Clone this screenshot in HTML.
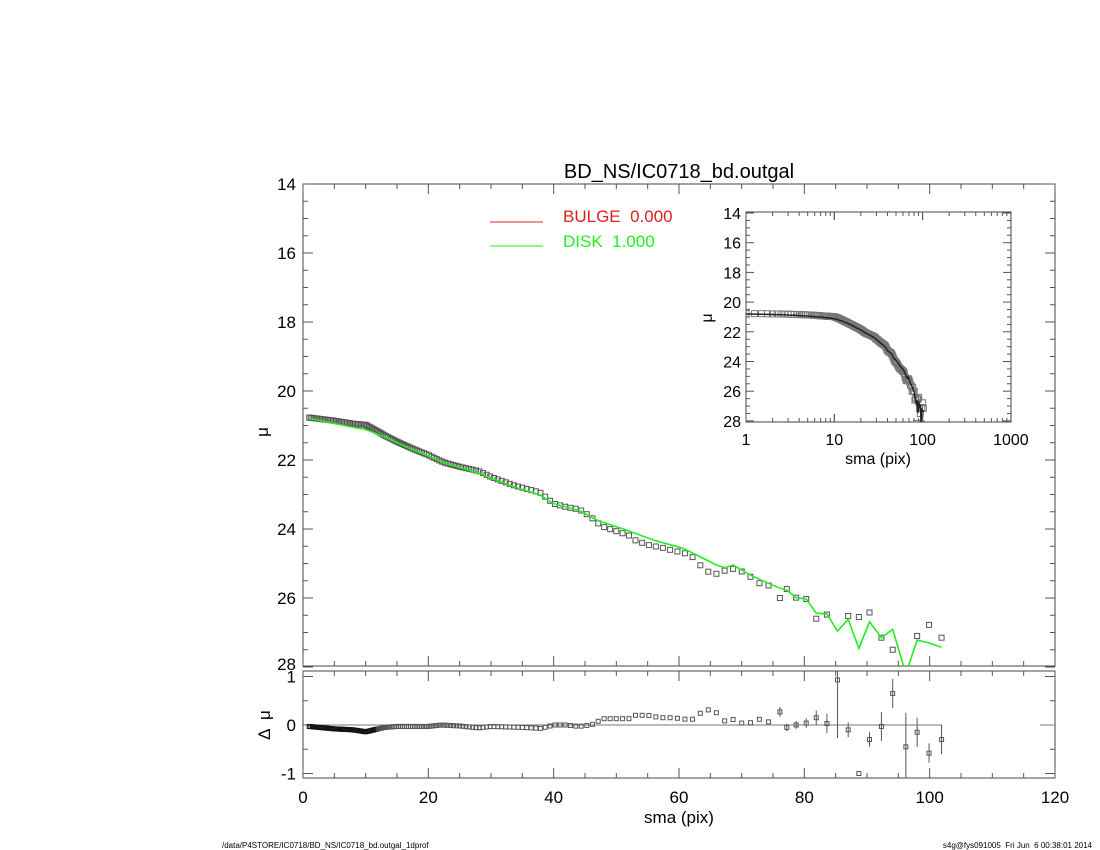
<!DOCTYPE html>
<html><head><meta charset="utf-8"><style>
html,body{margin:0;padding:0;background:#fff;}
svg{display:block;font-family:"Liberation Sans",sans-serif;}
text{white-space:pre;}
</style></head><body>
<svg id="s" width="1100" height="850" xmlns="http://www.w3.org/2000/svg"></svg>
<script>
const S=document.getElementById('s');let h='';
const X=x=>303+x*752/120, Y=m=>184+(m-14)*34.5, R=d=>725-48.5*d;
const IX=x=>746+Math.log10(x)*88.3, IY=m=>213+(m-14)*14.85;
function interp(k,x){if(x<=k[0][0])return k[0][1];for(let i=1;i<k.length;i++){if(x<=k[i][0]){const a=k[i-1],b=k[i];return a[1]+(b[1]-a[1])*(x-a[0])/(b[0]-a[0]);}}return k[k.length-1][1];}
const mk=[[1,20.8],[10,21.12],[12.3,21.28],[17.6,21.71],[22.9,22.1],[28.2,22.39],[33.5,22.77],[37.8,23.01],[39.9,23.26],[44.2,23.47],[46.8,23.74],[51.6,24.03],[55.9,24.32],[60.7,24.56],[67,25.14],[68.6,25.04],[71.3,25.33],[76.1,25.72]];
const rk=[[1,-0.03],[5,-0.08],[8,-0.1],[10,-0.14],[13,-0.05],[15,-0.03],[20,-0.03],[22,0],[25,-0.02],[28,-0.06],[30,-0.03],[35,-0.05],[38,-0.07],[40,0],[42,0],[44,-0.03],[46,0],[47,0.07],[48,0.13],[52,0.13],[53,0.2],[55,0.2],[57,0.15],[59,0.15],[61,0.12],[62,0.1],[63,0.22],[65,0.33],[66,0.25],[67,0.08],[69,0.12],[70,0.04],[72,0.05],[73,0.13],[74,0.03],[76,0.27]];
let pts=[];let x=1;
while(x<75.5){const m=interp(mk,x),r=interp(rk,x);pts.push({x,m,d:m+r,r,e:0.01});x+=Math.max(0.25,0.02*x);}
const tail=[[76.1,25.72,26.0,0.27,0.1],[77.2,25.77,25.74,-0.05,0.08],[78.7,25.99,25.99,0,0.08],[80.3,26.03,26.03,0.04,0.1],[81.9,26.44,26.6,0.15,0.15],[83.6,26.46,26.48,0.03,0.2],[85.3,26.96,28.17,0.93,1.2],[87,26.62,26.52,-0.1,0.15],[88.7,27.46,26.55,-1.0,0.05],[90.4,26.69,26.42,-0.3,0.15],[92.3,27.15,27.15,-0.03,0.3],[94.1,26.91,27.5,0.65,0.3],[96.2,28.2,28.2,-0.45,0.7],[98,27.22,27.1,-0.15,0.3],[99.9,27.3,26.78,-0.58,0.2],[101.9,27.43,27.15,-0.3,0.3]];
tail.forEach(t=>pts.push({x:t[0],m:t[1],d:t[2],r:t[3],e:t[4]}));
function frame(x0,y0,x1,y1){h+=`<rect x="${x0}" y="${y0}" width="${x1-x0}" height="${y1-y0}" fill="none" stroke="#444" stroke-width="1"/>`;}
const T='stroke="#555" stroke-width="1"';
h+=`<clipPath id="cm"><rect x="303" y="184" width="752" height="482"/></clipPath>`;
h+=`<clipPath id="ci"><rect x="746" y="212" width="265" height="210"/></clipPath>`;
frame(303,184,1055,666);frame(303,671,1055,778);
for(let v=0;v<=120;v+=5){const px=X(v),L=v%20==0?10:5;h+=`<line x1="${px}" y1="666" x2="${px}" y2="${666-L}" ${T}/><line x1="${px}" y1="184" x2="${px}" y2="${184+L}" ${T}/><line x1="${px}" y1="778" x2="${px}" y2="${778-L}" ${T}/><line x1="${px}" y1="671" x2="${px}" y2="${671+L}" ${T}/>`;if(v%20==0)h+=`<text x="${px}" y="803" font-size="17" text-anchor="middle">${v}</text>`;}
for(let v=14;v<=28;v+=0.5){const py=Y(v),L=v%2==0?10:5;h+=`<line x1="303" y1="${py}" x2="${303+L}" y2="${py}" ${T}/><line x1="1055" y1="${py}" x2="${1055-L}" y2="${py}" ${T}/>`;if(v%2==0)h+=`<text x="296" y="${v==28?py+3:py+6}" font-size="17" text-anchor="end">${v}</text>`;}
for(let v=-1;v<=1;v+=0.5){const py=R(v),L=Number.isInteger(v)?10:5;h+=`<line x1="303" y1="${py}" x2="${303+L}" y2="${py}" ${T}/><line x1="1055" y1="${py}" x2="${1055-L}" y2="${py}" ${T}/>`;if(Number.isInteger(v))h+=`<text x="296" y="${py+6}" font-size="17" text-anchor="end">${v}</text>`;}
h+=`<text x="679" y="178" font-size="20" text-anchor="middle">BD_NS/IC0718_bd.outgal</text>`;
h+=`<text x="679" y="823" font-size="17" text-anchor="middle">sma (pix)</text>`;
h+=`<text transform="translate(268,432) rotate(-90)" font-size="17" text-anchor="middle">μ</text>`;
h+=`<text transform="translate(270,725) rotate(-90)" font-size="17" text-anchor="middle">Δ  μ</text>`;
h+=`<line x1="490" y1="222" x2="543" y2="222" stroke="#e02020" stroke-width="1"/><text x="563" y="222" font-size="17" fill="#e02020">BULGE  0.000</text>`;
h+=`<line x1="490" y1="246" x2="543" y2="246" stroke="#22ee22" stroke-width="1"/><text x="563" y="247" font-size="17" fill="#22ee22">DISK  1.000</text>`;
let g='<g clip-path="url(#cm)">';
pts.forEach(p=>{g+=`<rect x="${X(p.x)-2.5}" y="${Y(p.d)-2.5}" width="5" height="5" fill="none" stroke="#555" stroke-width="1"/>`;});
g+=`<polyline fill="none" stroke="#22ee22" stroke-width="1.6" points="${pts.map(p=>X(p.x).toFixed(1)+','+Y(p.m).toFixed(1)).join(' ')}"/>`;
g+='</g>';h+=g;
h+=`<line x1="${X(1)}" y1="${R(0)}" x2="${X(102)}" y2="${R(0)}" stroke="#777" stroke-width="1"/>`;
h+=`<line x1="1040" y1="${R(0)}" x2="1055" y2="${R(0)}" stroke="#777" stroke-width="1"/>`;
pts.forEach(p=>{const px=X(p.x);if(p.e>0.05)h+=`<line x1="${px}" y1="${Math.max(671,R(p.r+p.e))}" x2="${px}" y2="${Math.min(778,R(p.r-p.e))}" stroke="#555" stroke-width="1"/>`;h+=`<rect x="${px-2}" y="${R(p.r)-2}" width="4" height="4" fill="none" stroke="${p.x<12?'#111':'#555'}" stroke-width="1"/>`;});
h+=`<rect x="746" y="212" width="265" height="210" fill="#fff"/>`;frame(746,212,1011,422);
for(let dec=0;dec<3;dec++)for(let k=1;k<=10;k++){const v=Math.pow(10,dec)*k,px=IX(v),L=k==1||k==10?8:4;h+=`<line x1="${px}" y1="422" x2="${px}" y2="${422-L}" ${T}/><line x1="${px}" y1="212" x2="${px}" y2="${212+L}" ${T}/>`;}
[1,10,100,1000].forEach(v=>h+=`<text x="${IX(v)}" y="445" font-size="16" text-anchor="middle">${v}</text>`);
for(let v=14;v<=28;v+=0.5){const py=IY(v),L=v%2==0?8:4;h+=`<line x1="746" y1="${py}" x2="${746+L}" y2="${py}" ${T}/><line x1="1011" y1="${py}" x2="${1011-L}" y2="${py}" ${T}/>`;if(v%2==0)h+=`<text x="741" y="${py+6}" font-size="16" text-anchor="end">${v}</text>`;}
h+=`<text x="878" y="464" font-size="16" text-anchor="middle">sma (pix)</text>`;
h+=`<text transform="translate(712,318) rotate(-90)" font-size="16" text-anchor="middle">μ</text>`;
let gi='<g clip-path="url(#ci)">';
pts.forEach(p=>{gi+=`<rect x="${IX(p.x)-3}" y="${IY(p.d)-3}" width="6" height="6" fill="none" stroke="#777" stroke-width="1"/>`;});
gi+=`<polyline fill="none" stroke="#222" stroke-width="1.5" points="${pts.map(p=>IX(p.x).toFixed(1)+','+IY(p.m).toFixed(1)).join(' ')}"/>`;
gi+='</g>';h+=gi;
h+=`<text x="222" y="848" font-size="8">/data/P4STORE/IC0718/BD_NS/IC0718_bd.outgal_1dprof</text>`;
h+=`<text x="1092" y="848" font-size="8" text-anchor="end">s4g@fys091005  Fri Jun  6 00:38:01 2014</text>`;
S.innerHTML=h;
</script>
</body></html>
